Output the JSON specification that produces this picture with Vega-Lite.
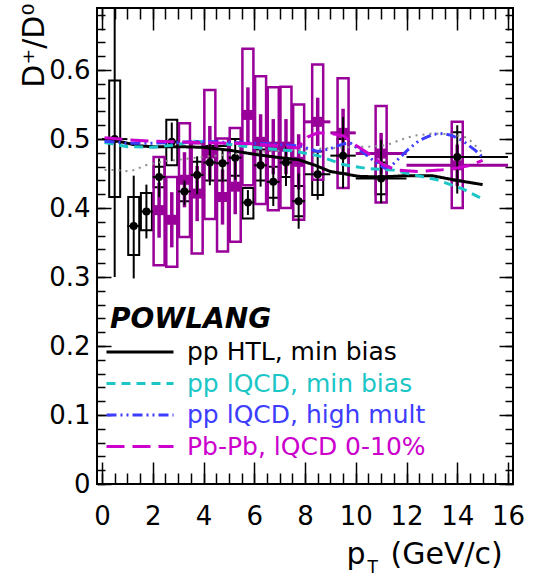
{
  "$schema": "https://vega.github.io/schema/vega-lite/v6.json",
  "width": 416,
  "height": 476,
  "autosize": {"type": "none"},
  "padding": {"left": 97, "top": 8, "right": 20, "bottom": 92},
  "background": "white",
  "config": {
    "view": {"stroke": "black", "strokeWidth": 2},
    "font": "DejaVu Sans",
    "axis": {
      "domain": false,
      "grid": false,
      "tickColor": "black",
      "tickWidth": 1.5,
      "labelColor": "black",
      "labelFont": "DejaVu Sans",
      "labelFontSize": 26,
      "labelOverlap": false,
      "labelFlush": false,
      "titleColor": "black",
      "titleFont": "DejaVu Sans",
      "titleFontWeight": "normal"
    }
  },
  "datasets": {
    "curves": [
      {"pt": 0.1, "ratio": 0.500, "model": "pp HTL, min bias"},
      {"pt": 0.5, "ratio": 0.498, "model": "pp HTL, min bias"},
      {"pt": 1.0, "ratio": 0.494, "model": "pp HTL, min bias"},
      {"pt": 1.5, "ratio": 0.490, "model": "pp HTL, min bias"},
      {"pt": 2.0, "ratio": 0.489, "model": "pp HTL, min bias"},
      {"pt": 3.0, "ratio": 0.489, "model": "pp HTL, min bias"},
      {"pt": 4.0, "ratio": 0.488, "model": "pp HTL, min bias"},
      {"pt": 5.0, "ratio": 0.484, "model": "pp HTL, min bias"},
      {"pt": 6.0, "ratio": 0.478, "model": "pp HTL, min bias"},
      {"pt": 7.0, "ratio": 0.473, "model": "pp HTL, min bias"},
      {"pt": 7.75, "ratio": 0.470, "model": "pp HTL, min bias"},
      {"pt": 8.4, "ratio": 0.462, "model": "pp HTL, min bias"},
      {"pt": 9.0, "ratio": 0.453, "model": "pp HTL, min bias"},
      {"pt": 9.5, "ratio": 0.450, "model": "pp HTL, min bias"},
      {"pt": 10.1, "ratio": 0.446, "model": "pp HTL, min bias"},
      {"pt": 11.0, "ratio": 0.445, "model": "pp HTL, min bias"},
      {"pt": 12.0, "ratio": 0.447, "model": "pp HTL, min bias"},
      {"pt": 13.0, "ratio": 0.447, "model": "pp HTL, min bias"},
      {"pt": 14.0, "ratio": 0.440, "model": "pp HTL, min bias"},
      {"pt": 15.0, "ratio": 0.434, "model": "pp HTL, min bias"},

      {"pt": 0.1, "ratio": 0.495, "model": "pp lQCD, min bias"},
      {"pt": 1.0, "ratio": 0.489, "model": "pp lQCD, min bias"},
      {"pt": 2.0, "ratio": 0.488, "model": "pp lQCD, min bias"},
      {"pt": 3.0, "ratio": 0.492, "model": "pp lQCD, min bias"},
      {"pt": 3.5, "ratio": 0.497, "model": "pp lQCD, min bias"},
      {"pt": 4.5, "ratio": 0.495, "model": "pp lQCD, min bias"},
      {"pt": 5.5, "ratio": 0.490, "model": "pp lQCD, min bias"},
      {"pt": 6.5, "ratio": 0.486, "model": "pp lQCD, min bias"},
      {"pt": 7.5, "ratio": 0.483, "model": "pp lQCD, min bias"},
      {"pt": 8.5, "ratio": 0.476, "model": "pp lQCD, min bias"},
      {"pt": 9.5, "ratio": 0.463, "model": "pp lQCD, min bias"},
      {"pt": 10.5, "ratio": 0.457, "model": "pp lQCD, min bias"},
      {"pt": 11.5, "ratio": 0.455, "model": "pp lQCD, min bias"},
      {"pt": 12.3, "ratio": 0.448, "model": "pp lQCD, min bias"},
      {"pt": 13.2, "ratio": 0.441, "model": "pp lQCD, min bias"},
      {"pt": 14.2, "ratio": 0.428, "model": "pp lQCD, min bias"},
      {"pt": 14.9, "ratio": 0.415, "model": "pp lQCD, min bias"},

      {"pt": 0.1, "ratio": 0.497, "model": "pp lQCD, high mult"},
      {"pt": 1.0, "ratio": 0.494, "model": "pp lQCD, high mult"},
      {"pt": 2.0, "ratio": 0.494, "model": "pp lQCD, high mult"},
      {"pt": 3.0, "ratio": 0.495, "model": "pp lQCD, high mult"},
      {"pt": 4.0, "ratio": 0.497, "model": "pp lQCD, high mult"},
      {"pt": 5.0, "ratio": 0.495, "model": "pp lQCD, high mult"},
      {"pt": 6.0, "ratio": 0.494, "model": "pp lQCD, high mult"},
      {"pt": 7.0, "ratio": 0.492, "model": "pp lQCD, high mult"},
      {"pt": 7.8, "ratio": 0.490, "model": "pp lQCD, high mult"},
      {"pt": 8.5, "ratio": 0.482, "model": "pp lQCD, high mult"},
      {"pt": 9.0, "ratio": 0.486, "model": "pp lQCD, high mult"},
      {"pt": 9.5, "ratio": 0.493, "model": "pp lQCD, high mult"},
      {"pt": 9.8, "ratio": 0.494, "model": "pp lQCD, high mult"},
      {"pt": 10.25, "ratio": 0.482, "model": "pp lQCD, high mult"},
      {"pt": 10.76, "ratio": 0.467, "model": "pp lQCD, high mult"},
      {"pt": 11.14, "ratio": 0.458, "model": "pp lQCD, high mult"},
      {"pt": 11.4, "ratio": 0.461, "model": "pp lQCD, high mult"},
      {"pt": 11.65, "ratio": 0.470, "model": "pp lQCD, high mult"},
      {"pt": 12.04, "ratio": 0.484, "model": "pp lQCD, high mult"},
      {"pt": 12.5, "ratio": 0.498, "model": "pp lQCD, high mult"},
      {"pt": 13.07, "ratio": 0.507, "model": "pp lQCD, high mult"},
      {"pt": 13.45, "ratio": 0.508, "model": "pp lQCD, high mult"},
      {"pt": 13.8, "ratio": 0.505, "model": "pp lQCD, high mult"},
      {"pt": 14.2, "ratio": 0.498, "model": "pp lQCD, high mult"},
      {"pt": 14.7, "ratio": 0.484, "model": "pp lQCD, high mult"},
      {"pt": 15.0, "ratio": 0.474, "model": "pp lQCD, high mult"},

      {"pt": 0.1, "ratio": 0.502, "model": "Pb-Pb, lQCD 0-10%"},
      {"pt": 1.0, "ratio": 0.499, "model": "Pb-Pb, lQCD 0-10%"},
      {"pt": 2.0, "ratio": 0.497, "model": "Pb-Pb, lQCD 0-10%"},
      {"pt": 3.0, "ratio": 0.496, "model": "Pb-Pb, lQCD 0-10%"},
      {"pt": 4.0, "ratio": 0.495, "model": "Pb-Pb, lQCD 0-10%"},
      {"pt": 5.0, "ratio": 0.494, "model": "Pb-Pb, lQCD 0-10%"},
      {"pt": 6.0, "ratio": 0.493, "model": "Pb-Pb, lQCD 0-10%"},
      {"pt": 7.0, "ratio": 0.490, "model": "Pb-Pb, lQCD 0-10%"},
      {"pt": 7.7, "ratio": 0.487, "model": "Pb-Pb, lQCD 0-10%"},
      {"pt": 8.1, "ratio": 0.503, "model": "Pb-Pb, lQCD 0-10%"},
      {"pt": 8.5, "ratio": 0.509, "model": "Pb-Pb, lQCD 0-10%"},
      {"pt": 9.0, "ratio": 0.508, "model": "Pb-Pb, lQCD 0-10%"},
      {"pt": 9.5, "ratio": 0.505, "model": "Pb-Pb, lQCD 0-10%"},
      {"pt": 10.0, "ratio": 0.491, "model": "Pb-Pb, lQCD 0-10%"},
      {"pt": 10.5, "ratio": 0.479, "model": "Pb-Pb, lQCD 0-10%"},
      {"pt": 11.1, "ratio": 0.462, "model": "Pb-Pb, lQCD 0-10%"},
      {"pt": 11.65, "ratio": 0.455, "model": "Pb-Pb, lQCD 0-10%"},
      {"pt": 12.5, "ratio": 0.453, "model": "Pb-Pb, lQCD 0-10%"},
      {"pt": 13.3, "ratio": 0.455, "model": "Pb-Pb, lQCD 0-10%"},
      {"pt": 14.0, "ratio": 0.458, "model": "Pb-Pb, lQCD 0-10%"},
      {"pt": 14.5, "ratio": 0.462, "model": "Pb-Pb, lQCD 0-10%"},
      {"pt": 15.0, "ratio": 0.469, "model": "Pb-Pb, lQCD 0-10%"}
    ],
    "dotted": [
      {"pt": 0.1, "ratio": 0.455},
      {"pt": 0.6, "ratio": 0.455},
      {"pt": 1.1, "ratio": 0.453},
      {"pt": 1.8, "ratio": 0.463},
      {"pt": 2.5, "ratio": 0.468},
      {"pt": 3.5, "ratio": 0.472},
      {"pt": 4.5, "ratio": 0.476},
      {"pt": 5.5, "ratio": 0.479},
      {"pt": 6.5, "ratio": 0.482},
      {"pt": 7.5, "ratio": 0.484},
      {"pt": 8.5, "ratio": 0.486},
      {"pt": 9.5, "ratio": 0.488},
      {"pt": 10.5, "ratio": 0.489},
      {"pt": 11.2, "ratio": 0.491},
      {"pt": 11.7, "ratio": 0.498},
      {"pt": 12.3, "ratio": 0.505},
      {"pt": 13.0, "ratio": 0.508},
      {"pt": 13.8, "ratio": 0.507},
      {"pt": 14.4, "ratio": 0.502},
      {"pt": 15.0, "ratio": 0.480}
    ],
    "ppdata": [
      {"pt": 0.5, "pt_lo": 0.0, "pt_hi": 1.0, "val": 0.500, "stat_lo": 0.300, "stat_hi": 0.700, "sys_lo": 0.416, "sys_hi": 0.585},
      {"pt": 1.25, "pt_lo": 1.0, "pt_hi": 1.5, "val": 0.374, "stat_lo": 0.298, "stat_hi": 0.447, "sys_lo": 0.332, "sys_hi": 0.416},
      {"pt": 1.75, "pt_lo": 1.5, "pt_hi": 2.0, "val": 0.395, "stat_lo": 0.356, "stat_hi": 0.434, "sys_lo": 0.368, "sys_hi": 0.422},
      {"pt": 2.25, "pt_lo": 2.0, "pt_hi": 2.5, "val": 0.445, "stat_lo": 0.416, "stat_hi": 0.472, "sys_lo": 0.430, "sys_hi": 0.460},
      {"pt": 2.75, "pt_lo": 2.5, "pt_hi": 3.0, "val": 0.496, "stat_lo": 0.468, "stat_hi": 0.524, "sys_lo": 0.462, "sys_hi": 0.528},
      {"pt": 3.25, "pt_lo": 3.0, "pt_hi": 3.5, "val": 0.424, "stat_lo": 0.404, "stat_hi": 0.440, "sys_lo": 0.410, "sys_hi": 0.440},
      {"pt": 3.75, "pt_lo": 3.5, "pt_hi": 4.0, "val": 0.448, "stat_lo": 0.420, "stat_hi": 0.475, "sys_lo": 0.424, "sys_hi": 0.467},
      {"pt": 4.25, "pt_lo": 4.0, "pt_hi": 4.5, "val": 0.466, "stat_lo": 0.433, "stat_hi": 0.494, "sys_lo": 0.440, "sys_hi": 0.490},
      {"pt": 4.75, "pt_lo": 4.5, "pt_hi": 5.0, "val": 0.465, "stat_lo": 0.438, "stat_hi": 0.484, "sys_lo": 0.440, "sys_hi": 0.490},
      {"pt": 5.25, "pt_lo": 5.0, "pt_hi": 5.5, "val": 0.473, "stat_lo": 0.441, "stat_hi": 0.499, "sys_lo": 0.447, "sys_hi": 0.500},
      {"pt": 5.75, "pt_lo": 5.5, "pt_hi": 6.0, "val": 0.408, "stat_lo": 0.390, "stat_hi": 0.426, "sys_lo": 0.385, "sys_hi": 0.429},
      {"pt": 6.25, "pt_lo": 6.0, "pt_hi": 6.5, "val": 0.462, "stat_lo": 0.431, "stat_hi": 0.484, "sys_lo": 0.440, "sys_hi": 0.485},
      {"pt": 6.75, "pt_lo": 6.5, "pt_hi": 7.0, "val": 0.438, "stat_lo": 0.403, "stat_hi": 0.459, "sys_lo": 0.415, "sys_hi": 0.460},
      {"pt": 7.25, "pt_lo": 7.0, "pt_hi": 7.5, "val": 0.466, "stat_lo": 0.432, "stat_hi": 0.489, "sys_lo": 0.445, "sys_hi": 0.488},
      {"pt": 7.75, "pt_lo": 7.5, "pt_hi": 8.0, "val": 0.410, "stat_lo": 0.370, "stat_hi": 0.450, "sys_lo": 0.388, "sys_hi": 0.432},
      {"pt": 8.5, "pt_lo": 8.0, "pt_hi": 9.0, "val": 0.449, "stat_lo": 0.412, "stat_hi": 0.484, "sys_lo": 0.419, "sys_hi": 0.482},
      {"pt": 9.5, "pt_lo": 9.0, "pt_hi": 10.0, "val": 0.476, "stat_lo": 0.429, "stat_hi": 0.532, "sys_lo": 0.450, "sys_hi": 0.500},
      {"pt": 11.0, "pt_lo": 10.0, "pt_hi": 12.0, "val": 0.443, "stat_lo": 0.407, "stat_hi": 0.499, "sys_lo": 0.420, "sys_hi": 0.466},
      {"pt": 14.0, "pt_lo": 12.0, "pt_hi": 16.0, "val": 0.474, "stat_lo": 0.421, "stat_hi": 0.520, "sys_lo": 0.440, "sys_hi": 0.510}
    ],
    "pbdata": [
      {"pt": 2.25, "pt_lo": 2.0, "pt_hi": 2.5, "val": 0.397, "stat_lo": 0.357, "stat_hi": 0.437, "sys_lo": 0.317, "sys_hi": 0.474},
      {"pt": 2.75, "pt_lo": 2.5, "pt_hi": 3.0, "val": 0.383, "stat_lo": 0.343, "stat_hi": 0.423, "sys_lo": 0.315, "sys_hi": 0.445},
      {"pt": 3.25, "pt_lo": 3.0, "pt_hi": 3.5, "val": 0.441, "stat_lo": 0.401, "stat_hi": 0.481, "sys_lo": 0.358, "sys_hi": 0.523},
      {"pt": 3.75, "pt_lo": 3.5, "pt_hi": 4.0, "val": 0.421, "stat_lo": 0.381, "stat_hi": 0.461, "sys_lo": 0.334, "sys_hi": 0.494},
      {"pt": 4.25, "pt_lo": 4.0, "pt_hi": 4.5, "val": 0.479, "stat_lo": 0.439, "stat_hi": 0.519, "sys_lo": 0.384, "sys_hi": 0.571},
      {"pt": 4.75, "pt_lo": 4.5, "pt_hi": 5.0, "val": 0.416, "stat_lo": 0.376, "stat_hi": 0.456, "sys_lo": 0.337, "sys_hi": 0.501},
      {"pt": 5.25, "pt_lo": 5.0, "pt_hi": 5.5, "val": 0.431, "stat_lo": 0.391, "stat_hi": 0.471, "sys_lo": 0.351, "sys_hi": 0.516},
      {"pt": 5.75, "pt_lo": 5.5, "pt_hi": 6.0, "val": 0.535, "stat_lo": 0.495, "stat_hi": 0.575, "sys_lo": 0.433, "sys_hi": 0.631},
      {"pt": 6.25, "pt_lo": 6.0, "pt_hi": 6.5, "val": 0.496, "stat_lo": 0.456, "stat_hi": 0.536, "sys_lo": 0.406, "sys_hi": 0.591},
      {"pt": 6.75, "pt_lo": 6.5, "pt_hi": 7.0, "val": 0.489, "stat_lo": 0.449, "stat_hi": 0.529, "sys_lo": 0.397, "sys_hi": 0.575},
      {"pt": 7.25, "pt_lo": 7.0, "pt_hi": 7.5, "val": 0.489, "stat_lo": 0.449, "stat_hi": 0.529, "sys_lo": 0.400, "sys_hi": 0.576},
      {"pt": 7.75, "pt_lo": 7.5, "pt_hi": 8.0, "val": 0.467, "stat_lo": 0.427, "stat_hi": 0.507, "sys_lo": 0.383, "sys_hi": 0.550},
      {"pt": 8.5, "pt_lo": 8.0, "pt_hi": 9.0, "val": 0.525, "stat_lo": 0.490, "stat_hi": 0.560, "sys_lo": 0.441, "sys_hi": 0.608},
      {"pt": 9.5, "pt_lo": 9.0, "pt_hi": 10.0, "val": 0.509, "stat_lo": 0.474, "stat_hi": 0.544, "sys_lo": 0.429, "sys_hi": 0.588},
      {"pt": 11.0, "pt_lo": 10.0, "pt_hi": 12.0, "val": 0.479, "stat_lo": 0.449, "stat_hi": 0.509, "sys_lo": 0.408, "sys_hi": 0.548},
      {"pt": 14.0, "pt_lo": 12.0, "pt_hi": 16.0, "val": 0.462, "stat_lo": 0.432, "stat_hi": 0.492, "sys_lo": 0.400, "sys_hi": 0.525}
    ]
  },
  "resolve": {"axis": {"x": "independent", "y": "independent"}},
  "layer": [
    {
      "data": {"name": "ppdata"},
      "mark": {"type": "bar", "filled": false, "stroke": "black", "strokeWidth": 2, "size": 11},
      "encoding": {
        "x": {"field": "pt", "type": "quantitative", "scale": {"domain": [0, 16], "nice": false, "zero": false},
          "axis": {"orient": "top", "values": [0, 2, 4, 6, 8, 10, 12, 14, 16], "labels": false, "tickSize": -22,
            "title": "(GeV/c)", "titleX": 293, "titleY": 555, "titleAlign": "left", "titleBaseline": "alphabetic", "titleAngle": 0, "titleFontSize": 30}},
        "y": {"field": "sys_lo", "type": "quantitative", "scale": {"domain": [0, 0.69], "nice": false, "zero": false},
          "axis": {"orient": "right", "values": [0, 0.1, 0.2, 0.3, 0.4, 0.5, 0.6], "labels": false, "tickSize": -14, "title": null}},
        "y2": {"field": "sys_hi"}
      }
    },
    {
      "data": {"name": "pbdata"},
      "mark": {"type": "bar", "filled": false, "stroke": "#990099", "strokeWidth": 2.5, "size": 11},
      "encoding": {
        "x": {"field": "pt", "type": "quantitative", "scale": {"domain": [0, 16], "nice": false, "zero": false},
          "axis": {"orient": "top", "values": [0, 0.5, 1, 1.5, 2, 2.5, 3, 3.5, 4, 4.5, 5, 5.5, 6, 6.5, 7, 7.5, 8, 8.5, 9, 9.5, 10, 10.5, 11, 11.5, 12, 12.5, 13, 13.5, 14, 14.5, 15, 15.5, 16], "labels": false, "tickSize": -11, "title": null}},
        "y": {"field": "sys_lo", "type": "quantitative", "scale": {"domain": [0, 0.69], "nice": false, "zero": false},
          "axis": {"orient": "right", "values": [0, 0.02, 0.04, 0.06, 0.08, 0.1, 0.12, 0.14, 0.16, 0.18, 0.2, 0.22, 0.24, 0.26, 0.28, 0.3, 0.32, 0.34, 0.36, 0.38, 0.4, 0.42, 0.44, 0.46, 0.48, 0.5, 0.52, 0.54, 0.56, 0.58, 0.6, 0.62, 0.64, 0.66, 0.68], "labels": false, "tickSize": -8, "title": null}},
        "y2": {"field": "sys_hi"}
      }
    },
    {
      "data": {"name": "pbdata"},
      "mark": {"type": "rule", "color": "#990099", "strokeWidth": 3},
      "encoding": {
        "x": {"field": "pt_lo", "type": "quantitative", "axis": null},
        "x2": {"field": "pt_hi"},
        "y": {"field": "val", "type": "quantitative", "axis": null}
      }
    },
    {
      "data": {"name": "pbdata"},
      "mark": {"type": "rule", "color": "#990099", "strokeWidth": 3.5},
      "encoding": {
        "x": {"field": "pt", "type": "quantitative", "axis": null},
        "y": {"field": "stat_lo", "type": "quantitative", "axis": null},
        "y2": {"field": "stat_hi"}
      }
    },
    {
      "data": {"name": "pbdata"},
      "mark": {"type": "point", "shape": "square", "filled": true, "color": "#990099", "size": 100, "opacity": 1},
      "encoding": {
        "x": {"field": "pt", "type": "quantitative", "axis": null},
        "y": {"field": "val", "type": "quantitative", "axis": null}
      }
    },
    {
      "data": {"name": "ppdata"},
      "mark": {"type": "rule", "color": "black", "strokeWidth": 2},
      "encoding": {
        "x": {"field": "pt_lo", "type": "quantitative", "axis": null},
        "x2": {"field": "pt_hi"},
        "y": {"field": "val", "type": "quantitative", "axis": null}
      }
    },
    {
      "data": {"name": "ppdata"},
      "mark": {"type": "rule", "color": "black", "strokeWidth": 2, "clip": true},
      "encoding": {
        "x": {"field": "pt", "type": "quantitative", "axis": null},
        "y": {"field": "stat_lo", "type": "quantitative", "axis": null},
        "y2": {"field": "stat_hi"}
      }
    },
    {
      "data": {"name": "ppdata"},
      "mark": {"type": "point", "shape": "circle", "filled": true, "color": "black", "size": 64, "opacity": 1},
      "encoding": {
        "x": {"field": "pt", "type": "quantitative", "axis": null},
        "y": {"field": "val", "type": "quantitative", "axis": null}
      }
    },
    {
      "data": {"name": "dotted"},
      "mark": {"type": "line", "color": "#8c8c8c", "strokeWidth": 2, "strokeDash": [2, 5]},
      "encoding": {
        "x": {"field": "pt", "type": "quantitative", "scale": {"domain": [0, 16], "nice": false, "zero": false},
          "axis": {"orient": "bottom", "values": [0, 0.5, 1, 1.5, 2, 2.5, 3, 3.5, 4, 4.5, 5, 5.5, 6, 6.5, 7, 7.5, 8, 8.5, 9, 9.5, 10, 10.5, 11, 11.5, 12, 12.5, 13, 13.5, 14, 14.5, 15, 15.5, 16], "labels": false, "tickSize": -11,
            "title": "T", "titleX": 270, "titleY": 88, "titleAlign": "left", "titleBaseline": "alphabetic", "titleFontSize": 17}},
        "y": {"field": "ratio", "type": "quantitative", "scale": {"domain": [0, 0.69], "nice": false, "zero": false},
          "axis": {"orient": "left", "values": [0, 0.02, 0.04, 0.06, 0.08, 0.1, 0.12, 0.14, 0.16, 0.18, 0.2, 0.22, 0.24, 0.26, 0.28, 0.3, 0.32, 0.34, 0.36, 0.38, 0.4, 0.42, 0.44, 0.46, 0.48, 0.5, 0.52, 0.54, 0.56, 0.58, 0.6, 0.62, 0.64, 0.66, 0.68], "labels": false, "tickSize": -8, "title": null}}
      }
    },
    {
      "data": {"name": "curves"},
      "mark": {"type": "line", "strokeWidth": 3},
      "encoding": {
        "x": {"field": "pt", "type": "quantitative", "scale": {"domain": [0, 16], "nice": false, "zero": false},
          "axis": {"orient": "bottom", "values": [0, 2, 4, 6, 8, 10, 12, 14, 16], "format": "d", "tickSize": -22, "labelPadding": 41,
            "title": "p", "titleX": 249, "titleY": 79, "titleAlign": "left", "titleBaseline": "alphabetic", "titleFontSize": 30}},
        "y": {"field": "ratio", "type": "quantitative", "scale": {"domain": [0, 0.69], "nice": false, "zero": false},
          "axis": {"orient": "left", "values": [0, 0.1, 0.2, 0.3, 0.4, 0.5, 0.6], "format": ".1~f", "tickSize": -14, "labelPadding": 21,
            "title": "D⁺/D⁰", "titleAngle": -90, "titleX": -54, "titleY": -5, "titleAlign": "right", "titleBaseline": "alphabetic", "titleFontSize": 30}},
        "color": {"field": "model", "type": "nominal",
          "scale": {"domain": ["pp HTL, min bias", "pp lQCD, min bias", "pp lQCD, high mult", "Pb-Pb, lQCD 0-10%"],
                    "range": ["#000000", "#1cc6c6", "#3d3dff", "#cc00cc"]},
          "legend": {"orient": "none", "legendX": 13, "legendY": 298, "padding": 0,
            "title": "POWLANG", "titleFont": "DejaVu Sans", "titleFontSize": 28, "titleFontWeight": "bold", "titleFontStyle": "italic", "titleColor": "black", "titlePadding": 5,
            "symbolType": "M-3,0H3", "symbolSize": 499, "symbolStrokeWidth": 3, "symbolOffset": 17,
            "labelFont": "DejaVu Sans", "labelFontSize": 25, "labelOffset": 34, "labelLimit": 400, "rowPadding": 5.5,
            "labelColor": {"expr": "datum.label == 'pp HTL, min bias' ? '#000000' : datum.label == 'pp lQCD, min bias' ? '#1cc6c6' : datum.label == 'pp lQCD, high mult' ? '#3d3dff' : '#cc00cc'"}}},
        "strokeDash": {"field": "model", "type": "nominal",
          "scale": {"domain": ["pp HTL, min bias", "pp lQCD, min bias", "pp lQCD, high mult", "Pb-Pb, lQCD 0-10%"],
                    "range": [[1, 0], [9, 6], [10, 4, 2, 4, 2, 4], [18, 8]]},
          "legend": {"orient": "none", "legendX": 13, "legendY": 298, "padding": 0,
            "title": "POWLANG", "titleFont": "DejaVu Sans", "titleFontSize": 28, "titleFontWeight": "bold", "titleFontStyle": "italic", "titleColor": "black", "titlePadding": 5,
            "symbolType": "M-3,0H3", "symbolSize": 499, "symbolStrokeWidth": 3, "symbolOffset": 17,
            "labelFont": "DejaVu Sans", "labelFontSize": 25, "labelOffset": 34, "labelLimit": 400, "rowPadding": 5.5,
            "labelColor": {"expr": "datum.label == 'pp HTL, min bias' ? '#000000' : datum.label == 'pp lQCD, min bias' ? '#1cc6c6' : datum.label == 'pp lQCD, high mult' ? '#3d3dff' : '#cc00cc'"}}}
      }
    }
  ]
}
